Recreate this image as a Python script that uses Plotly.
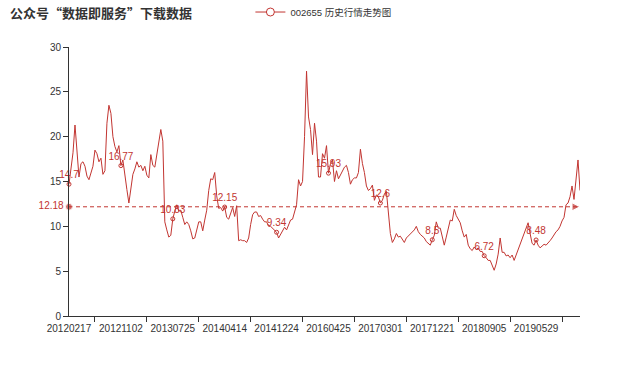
import plotly.graph_objects as go

# ---------------- data ----------------
title_text = "公众号“数据即服务”下载数据"
series_name = "002655 历史行情走势图"

axis_dates = ["20120217", "20121102", "20130725", "20140414", "20141224",
              "20160425", "20170301", "20171221", "20180905", "20190529"]

prices = [
    14.7, 16.5, 18.2, 21.3, 17.8, 15.5, 17.0, 17.2, 16.7, 15.6,
    15.2, 16.0, 16.7, 18.5, 18.1, 17.2, 17.6, 15.8, 16.2, 21.5,
    23.5, 22.6, 20.0, 18.9, 18.3, 19.0, 16.77, 17.4, 16.0, 14.1,
    12.6, 14.4, 15.8, 16.4, 17.2, 16.6, 16.8, 16.2, 16.7, 15.7,
    15.4, 18.0, 16.8, 16.6, 18.2, 19.3, 20.8, 19.5, 10.5, 9.6,
    8.8, 9.0, 10.83, 11.7, 12.4, 11.7, 11.8, 11.0, 10.2, 10.5,
    10.2, 9.5, 8.6, 8.7, 9.8, 10.5, 10.5, 9.5, 10.7, 11.8,
    14.0, 15.3, 15.2, 16.0, 13.4, 12.0, 12.1, 11.7, 12.15, 11.0,
    10.8, 11.6, 12.1, 11.1, 12.3, 8.4, 8.5, 8.4, 8.4, 8.2,
    8.7, 10.2, 11.3, 11.6, 11.6, 11.1, 11.2, 10.8, 10.5, 10.5,
    10.0, 10.0, 9.8, 9.6, 9.34, 8.7, 9.1, 9.4, 9.9, 9.6,
    10.1, 10.7, 10.8, 11.5, 12.4, 15.2, 14.5, 15.0, 20.0, 27.3,
    22.2, 20.8, 18.0, 21.5, 19.5, 15.5, 15.5, 18.1, 17.6, 19.0,
    15.93, 17.0, 17.4, 15.0, 16.2, 15.3, 15.8, 16.1, 16.6, 16.8,
    16.0, 14.7, 15.2, 15.4, 15.4, 16.0, 18.6, 17.0, 16.0, 14.5,
    14.0, 14.2, 14.6, 12.9, 13.5, 13.3, 12.6, 12.9, 13.6, 13.9,
    11.1, 9.2, 8.2, 8.6, 9.2, 8.8, 8.9, 8.6, 8.2, 8.7,
    8.9, 9.1, 9.3, 9.6, 10.0, 9.4, 9.1, 8.9, 8.7, 8.3,
    8.1, 7.9, 8.5, 9.0, 10.5, 9.8, 9.8, 9.0, 7.9, 8.8,
    9.9, 10.7, 10.6, 11.9, 11.2, 10.8, 10.4, 9.5, 8.8, 9.1,
    7.9, 7.5, 7.3, 7.7, 7.4, 7.6, 7.2, 7.2, 6.72, 6.5,
    6.2, 6.2, 5.6, 5.1, 5.8, 6.9, 8.7, 7.1, 7.1, 6.7,
    6.8, 6.5, 6.8, 6.2, 6.8, 7.4, 7.9, 8.6, 9.2, 9.9,
    10.4, 9.2, 8.1, 7.9, 8.48, 7.9, 7.6, 7.8, 8.0, 7.9,
    8.1, 8.4, 8.7, 9.1, 9.4, 9.6, 10.0, 10.6, 11.0, 12.4,
    12.6, 13.3, 14.5, 13.0, 15.5, 17.4, 14.0,
]

average_price = 12.18
y_ticks = [0, 5, 10, 15, 20, 25, 30]

# ---------------- style ----------------
RED = "#c23531"
AXIS = "#333333"
FONT = "Liberation Sans, Noto Sans CJK SC, sans-serif"
LABEL_EVERY = 26

idx = list(range(len(prices)))
label_idx = idx[::LABEL_EVERY][:len(axis_dates)]
tick_idx = [i + LABEL_EVERY / 2 for i in label_idx]
label_text = [f"{prices[i]:g}" for i in label_idx]
x_last = idx[-1]

fig = go.Figure()

fig.add_trace(go.Scatter(
    x=idx, y=prices, mode="lines", line=dict(color=RED, width=1),
    showlegend=False, hoverinfo="x+y",
))

fig.add_trace(go.Scatter(
    x=label_idx, y=[prices[i] for i in label_idx], mode="markers+text",
    text=label_text, textposition="top center",
    textfont=dict(color=RED, size=10, family=FONT),
    marker=dict(symbol="circle-open", size=4, color=RED, line=dict(width=1)),
    showlegend=False, cliponaxis=False,
))

# average mark line
fig.add_trace(go.Scatter(
    x=[0, x_last], y=[average_price, average_price], mode="lines+markers+text",
    line=dict(color=RED, width=1, dash="4px,3px"),
    marker=dict(symbol=["circle", "arrow-right"], size=[7, 8], color=RED),
    text=[f"{average_price:g}", ""], textposition="middle left",
    textfont=dict(color=RED, size=10, family=FONT),
    showlegend=False, cliponaxis=False,
))

# legend entry
fig.add_trace(go.Scatter(
    x=[None], y=[None], mode="lines+markers", name=series_name,
    line=dict(color=RED, width=1),
    marker=dict(symbol="circle", size=8, color="white", line=dict(color=RED, width=1)),
))

# invisible trace on the tick axis
fig.add_trace(go.Scatter(x=[0, x_last], y=[None, None], xaxis="x2",
                         showlegend=False, hoverinfo="skip"))

W, H = 640, 366
fig.update_layout(
    width=W, height=H,
    margin=dict(l=69, r=60, t=47, b=50, autoexpand=False),
    paper_bgcolor="white", plot_bgcolor="white",
    font=dict(family=FONT, size=10, color=AXIS),
    title=dict(text=f"<b>{title_text}</b>", x=10 / W, xanchor="left",
               y=1 - 13 / H, yanchor="middle",
               font=dict(family="Noto Sans CJK SC", size=13, color=AXIS)),
    legend=dict(orientation="h", x=0.355, xanchor="left", y=1.13, yanchor="middle",
                font=dict(size=9.5, color=AXIS), bgcolor="rgba(0,0,0,0)"),
    xaxis=dict(range=[0, x_last], tickvals=label_idx, ticktext=axis_dates,
               ticks="outside", ticklen=3, tickcolor="rgba(0,0,0,0)",
               showline=True, linecolor=AXIS, linewidth=1,
               showgrid=False, zeroline=False, tickfont=dict(size=10)),
    xaxis2=dict(range=[0, x_last], overlaying="x", anchor="y", side="bottom",
                tickvals=tick_idx, ticks="outside", ticklen=5, tickcolor=AXIS,
                showticklabels=False, showline=False, showgrid=False, zeroline=False),
    yaxis=dict(range=[0, 30], tickvals=y_ticks, ticks="outside", ticklen=5,
               tickcolor=AXIS, showline=True, linecolor=AXIS, linewidth=1,
               showgrid=False, zeroline=False, tickfont=dict(size=10)),
)

fig.write_html("out.html", config={"displayModeBar": False},
               post_script="document.body.style.margin='0';")
